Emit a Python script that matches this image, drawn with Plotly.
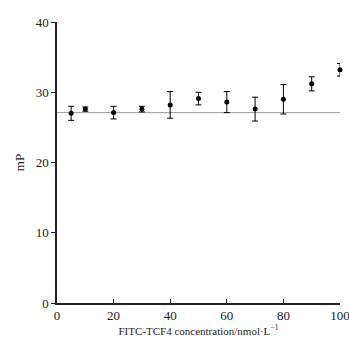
import plotly.graph_objects as go

concentration = [5, 10, 20, 30, 40, 50, 60, 70, 80, 90, 100]
mp_values = [27.0, 27.6, 27.1, 27.6, 28.2, 29.1, 28.6, 27.6, 29.0, 31.2, 33.2]
mp_errors = [1.0, 0.3, 0.9, 0.4, 1.9, 0.9, 1.5, 1.7, 2.1, 1.0, 0.9]
baseline_value = 27.1
x_range = [0, 100]
y_range = [0, 40]
x_ticks = [0, 20, 40, 60, 80, 100]
y_ticks = [0, 10, 20, 30, 40]

font = dict(family="Liberation Serif, Times New Roman, serif", color="#222", size=13)

fig = go.Figure()
fig.add_trace(go.Scatter(
    x=x_range, y=[baseline_value, baseline_value], mode="lines",
    line=dict(color="#9a9a9a", width=1), hoverinfo="skip", showlegend=False))
fig.add_trace(go.Scatter(
    x=concentration, y=mp_values, mode="markers", cliponaxis=False,
    marker=dict(color="black", size=5),
    error_y=dict(type="data", array=mp_errors, color="black", thickness=1, width=3),
    showlegend=False))

fig.update_layout(
    width=360, height=344,
    margin=dict(l=57, r=20, t=22, b=41),
    paper_bgcolor="white", plot_bgcolor="white",
    font=font,
    xaxis=dict(range=x_range, tickvals=x_ticks, showgrid=False, zeroline=False,
               showline=True, linecolor="#222", linewidth=1.5, automargin=False,
               ticks="inside", ticklen=4, tickcolor="#222",
               title=dict(text="FITC-TCF4 concentration/nmol·L<sup>−1</sup>", font=dict(size=11), standoff=0)),
    yaxis=dict(range=y_range, tickvals=y_ticks, showgrid=False, zeroline=False,
               showline=True, linecolor="#222", linewidth=1.5, automargin=False,
               ticks="outside", ticklen=4, tickcolor="#222",
               title=dict(text="mP", font=dict(size=13), standoff=8)),
)

fig.write_html("out.html", config={"displayModeBar": False},
               post_script="document.body.style.margin='0';document.body.style.overflow='hidden';")
